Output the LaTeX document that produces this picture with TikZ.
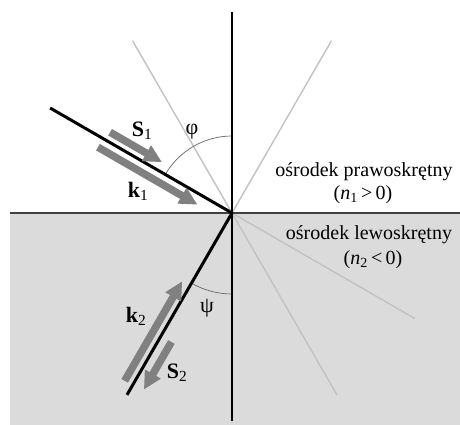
\documentclass[tikz,border=0pt]{standalone}
\usepackage{fontspec}
\setmainfont{Liberation Serif}
\usetikzlibrary{arrows.meta,calc}

\begin{document}
\begin{tikzpicture}[x=1pt, y=1pt,
    medium/.style={fill=black!14},
    axisline/.style={draw=black, line width=1.6pt},
    boundary/.style={draw=black!75, line width=1.8pt},
    ray/.style={draw=black, line width=3pt},
    ghost/.style={draw=black!24, line width=1.4pt},
    anglearc/.style={draw=black!60, line width=0.7pt},
    fatarrow/.style={draw=black!50, line width=7.5pt, -{Triangle[length=18pt,width=17pt]}},
    veclabel/.style={font=\fontsize{22}{26}\selectfont\bfseries, inner sep=0pt},
    anglabel/.style={font=\fontsize{22}{26}\selectfont, inner sep=0pt},
    mediumlabel/.style={font=\fontsize{20}{25}\selectfont, align=center, inner sep=0pt}
]
\useasboundingbox (-232,-212) rectangle (228,213);
\coordinate (O) at (0,0);

% lower medium
\fill[medium] (-222,0) rectangle (228,-212);

\coordinate (top) at (0,201);
\coordinate (bottom) at (0,-208);
\coordinate (left) at (-222,0);
\coordinate (right) at (228,0);
\coordinate (inc) at (150:210);
\coordinate (refr) at (240:210);
\coordinate (gA) at (120:199);
\coordinate (gB) at (60:199);
\coordinate (gC) at (-30:211);
\coordinate (gD) at (-60:210);

\draw[ghost] (O) -- (gA);
\draw[ghost] (O) -- (gB);
\draw[ghost] (O) -- (gC);
\draw[ghost] (O) -- (gD);

\draw[anglearc] ($(O)+(90:77)$) arc[start angle=90, end angle=150, radius=77pt];
\draw[anglearc] ($(O)+(240:81)$) arc[start angle=240, end angle=270, radius=81pt];

\draw[boundary] (left) -- (right);
\draw[axisline] (top) -- (bottom);
\draw[ray] (O) -- (inc);
\draw[ray] (O) -- (refr);

\coordinate (S1a) at ($(O)+(150:146)+(60:9)$);
\coordinate (S1b) at ($(O)+(150:86)+(60:9)$);
\coordinate (k1a) at ($(O)+(150:149)+(240:10)$);
\coordinate (k1b) at ($(O)+(150:34)+(240:10)$);
\coordinate (k2a) at ($(O)+(240:199)+(150:9)$);
\coordinate (k2b) at ($(O)+(240:84)+(150:9)$);
\coordinate (S2a) at ($(O)+(240:142)+(-30:12)$);
\coordinate (S2b) at ($(O)+(240:197)+(-30:12)$);

\draw[fatarrow] (S1a) -- (S1b);
\draw[fatarrow] (k1a) -- (k1b);
\draw[fatarrow] (k2a) -- (k2b);
\draw[fatarrow] (S2a) -- (S2b);

\node[veclabel] (S1) at (-90,82) {S\textsubscript{\normalfont 1}};
\node[veclabel] (k1) at (-94,22) {k\textsubscript{\normalfont 1}};
\node[veclabel] (k2) at (-96,-103) {k\textsubscript{\normalfont 2}};
\node[veclabel] (S2) at (-55,-160) {S\textsubscript{\normalfont 2}};

\node[anglabel] (phi) at (-40,81) {φ};
\node[anglabel] (psi) at (-25,-95) {ψ};

\node[mediumlabel] (right1) at (132,41) {ośrodek prawoskrętny};
\node[mediumlabel] (n1) at (131,18) {(\textit{n}\textsubscript{1}\,>\,0)};
\node[mediumlabel] (left2) at (137,-22) {ośrodek lewoskrętny};
\node[mediumlabel] (n2) at (141,-47) {(\textit{n}\textsubscript{2}\,<\,0)};
\end{tikzpicture}
\end{document}
